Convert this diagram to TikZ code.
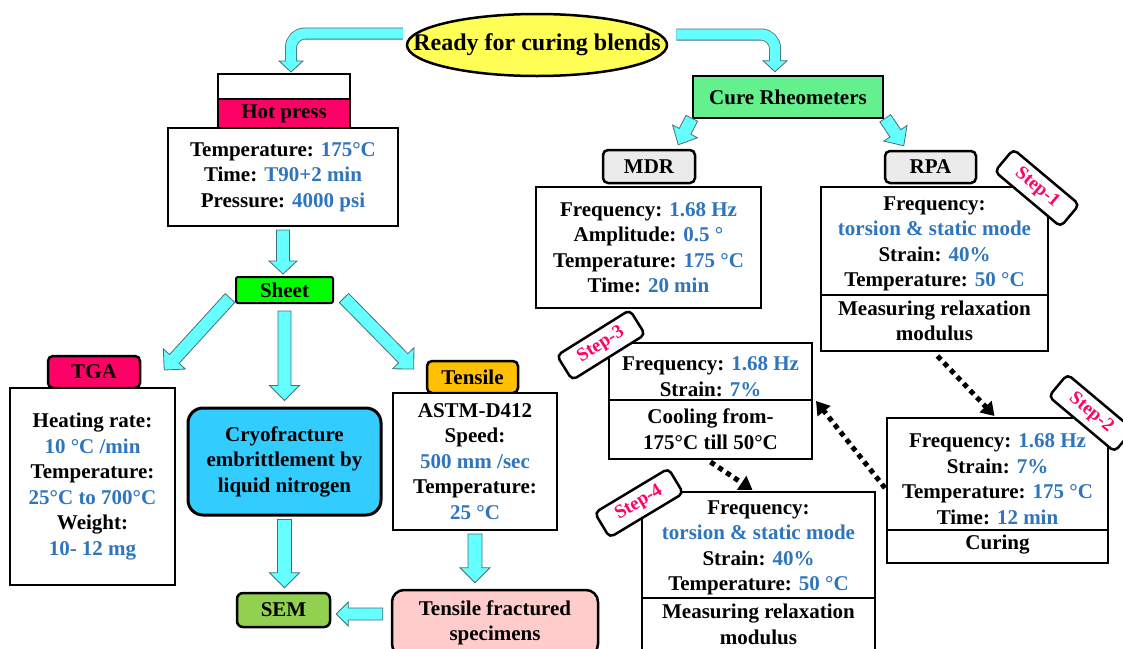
\documentclass[tikz,border=0pt]{standalone}
\usepackage{fontspec}
\setmainfont{Liberation Serif}
\usetikzlibrary{calc,shapes.geometric,arrows.meta}
\definecolor{txtblue}{RGB}{46,117,190}
\definecolor{arrfill}{RGB}{102,255,255}
\definecolor{arrline}{RGB}{70,110,120}
\definecolor{ellfill}{RGB}{255,255,85}
\definecolor{hotred}{RGB}{255,0,102}
\definecolor{sheetgreen}{RGB}{0,255,0}
\definecolor{curegreen}{RGB}{100,240,140}
\definecolor{cryoblue}{RGB}{51,204,255}
\definecolor{semgreen}{RGB}{146,208,80}
\definecolor{tensorange}{RGB}{255,192,0}
\definecolor{fracpink}{RGB}{255,204,204}
\definecolor{taggray}{RGB}{235,235,235}
\definecolor{steppink}{RGB}{255,0,102}
\newcommand\blu[1]{\textcolor{txtblue}{#1}}
% fat arrow: start, end, shaft half width, head half width, head length
\newcommand\fatarrow[5]{%
  \coordinate (fatA) at (#1);
  \coordinate (fatB) at (#2);
  \coordinate (fatC) at ($(fatB)!#5!(fatA)$);
  \filldraw[fatstyle] ($(fatA)!#3!90:(fatB)$) -- ($(fatC)!#3!-90:(fatA)$) -- ($(fatC)!#4!-90:(fatA)$) -- (fatB) -- ($(fatC)!#4!90:(fatA)$) -- ($(fatC)!#3!90:(fatA)$) -- ($(fatA)!#3!-90:(fatB)$) -- cycle;
}
\begin{document}
\begin{tikzpicture}[x=1pt,y=-1pt,
  base/.style={font=\fontsize{21}{25.5}\selectfont\bfseries, align=center, inner sep=0pt, text=black},
  sz/.style 2 args={minimum width=#1pt, minimum height=#2pt},
  box/.style={base, draw, line width=2pt, fill=white},
  tag/.style={base, draw, line width=2.5pt, rounded corners=5pt},
  steptag/.style={draw, line width=2.5pt, rounded corners=5pt, fill=white, text=steppink, font=\fontsize{19}{23}\selectfont\bfseries, minimum width=86pt, minimum height=29pt, inner sep=0pt},
  txt/.style={base},
  fatstyle/.style={fill=arrfill, draw=arrline, line width=0.8pt, line join=miter},
  dotarrow/.style={line width=5pt, dash pattern=on 5pt off 4.5pt, -{Triangle[length=13pt,width=16pt]}},
]
\useasboundingbox (0,0) rectangle (1123,648);

% ---------- title ----------
\node[ellipse, draw, line width=2.5pt, fill=ellfill, minimum width=260pt, minimum height=62pt, inner sep=0pt, font=\fontsize{24}{28}\selectfont\bfseries] (ready) at (537,45) {\makebox[0pt]{Ready for curing blends}};

% ---------- left column ----------
\node[box, sz={132}{25}] (hpw) at (284,86.5) {};
\node[tag, rounded corners=0pt, line width=2pt, fill=hotred, sz={132}{29}] (hpr) at (284,113.5) {Hot press};
\node[box, sz={230}{98}] (hp) at (283,177) {Temperature: \blu{175°C}\\Time: \blu{T90+2 min}\\Pressure: \blu{4000 psi}};
\node[tag, line width=2pt, rounded corners=2pt, fill=sheetgreen, sz={97}{26}] (sheet) at (284.5,290) {Sheet};

\node[tag, fill=hotred, sz={92}{32}] (tgatag) at (94,372) {TGA};
\node[box, sz={165}{197}] (tga) at (92.5,486.5) {Heating rate:\\\blu{10 °C /min}\\Temperature:\\\blu{25°C to 700°C}\\Weight:\\\blu{10- 12 mg}};

\node[base, draw, line width=3pt, rounded corners=15pt, fill=cryoblue, sz={193}{107}] (cryo) at (284.5,461.5) {Cryofracture\\embrittlement by\\liquid nitrogen};
\node[tag, rounded corners=6pt, fill=semgreen, sz={93}{34}] (sem) at (283.5,610) {SEM};

\node[tag, fill=tensorange, sz={91}{32}] (tentag) at (472.5,377) {Tensile};
\node[box, sz={164}{137}] (tenbox) at (475,461.5) {ASTM-D412\\Speed:\\\blu{500 mm /sec}\\Temperature:\\\blu{25 °C}};
\node[tag, rounded corners=12pt, fill=fracpink, sz={206}{66}] (frac) at (495,623) {Tensile fractured\\specimens};

% ---------- right column ----------
\node[tag, rounded corners=0pt, fill=curegreen, sz={190}{42}] (cure) at (788,97) {Cure Rheometers};
\node[tag, fill=taggray, sz={92}{33}] (mdrtag) at (649,166.5) {MDR};
\node[box, sz={225}{121}] (mdr) at (648.5,247.5) {Frequency: \blu{1.68 Hz}\\Amplitude: \blu{0.5 °}\\Temperature: \blu{175 °C}\\Time: \blu{20 min}};
\node[tag, fill=taggray, sz={91}{32}] (rpatag) at (930.5,167) {RPA};

\node[box, sz={227}{108}] (rpaA) at (934.5,241) {};
\node[txt] (rpaAt) at (934.5,244) {Frequency:\\\blu{torsion \& static mode}\\Strain: \blu{40\%}\\Temperature: \blu{50 °C}};
\node[box, sz={227}{56}] (rpaB) at (934.5,323) {};
\node[txt] (rpaBt) at (934.5,321) {Measuring relaxation\\modulus};

\node[box, sz={203}{57}] (s3A) at (710.5,371.5) {};
\node[txt] (s3At) at (710.5,376.5) {Frequency: \blu{1.68 Hz}\\Strain: \blu{7\%}};
\node[box, sz={203}{59}] (s3B) at (710.5,429.5) {};
\node[txt] (s3Bt) at (710.5,429) {Cooling from-\\175°C till 50°C};

\node[box, sz={221}{112}] (s2A) at (997.5,474) {};
\node[txt] (s2At) at (997.5,479) {Frequency: \blu{1.68 Hz}\\Strain: \blu{7\%}\\Temperature: \blu{175 °C}\\Time: \blu{12 min}};
\node[box, sz={221}{33}] (s2B) at (997.5,546.5) {};
\node[txt] (s2Bt) at (997.5,545) {Curing};

\node[box, sz={233}{106}] (s4A) at (758.5,545) {};
\node[txt] (s4At) at (758.5,548) {Frequency:\\\blu{torsion \& static mode}\\Strain: \blu{40\%}\\Temperature: \blu{50 °C}};
\node[box, sz={233}{62}] (s4B) at (758.5,629) {};
\node[txt] (s4Bt) at (758.5,624.5) {Measuring relaxation\\modulus};

% step tags
\node[steptag, rotate=-40] (st1) at (1037,188) {Step-1};
\node[steptag, rotate=-40] (st2) at (1091,413) {Step-2};
\node[steptag, rotate=32] (st3) at (601,345) {Step-3};
\node[steptag, rotate=31] (st4) at (639,503) {Step-4};

% ---------- curved arrows from title ----------
\coordinate (la1) at ($(ready.west)+(-3,-11.5)$);
\coordinate (la2) at ($(hpw.north)+(7,-1)$);
\draw[line width=12pt, arrline, rounded corners=14pt] (la1) -| ($(la2)+(0,-11)$);
\filldraw[fatstyle] ($(la2)+(-12,-11)$) -- ($(la2)+(12,-11)$) -- (la2) -- cycle;
\draw[line width=10.4pt, arrfill, rounded corners=14pt] (la1) -| ($(la2)+(0,-10)$);

\coordinate (ra1) at ($(ready.east)+(8,-10.5)$);
\coordinate (ra2) at ($(cure.north)+(-13,-3)$);
\draw[line width=12pt, arrline, rounded corners=14pt] (ra1) -| ($(ra2)+(0,-11)$);
\filldraw[fatstyle] ($(ra2)+(-12,-11)$) -- ($(ra2)+(12,-11)$) -- (ra2) -- cycle;
\draw[line width=10.4pt, arrfill, rounded corners=14pt] (ra1) -| ($(ra2)+(0,-10)$);

% ---------- fat straight arrows ----------
\fatarrow{$(hp.south)+(0,3)$}{$(hp.south |- sheet.north)+(0,-2)$}{6.5pt}{14pt}{13pt}
\fatarrow{$(sheet.south west)+(-5,-6)$}{$(tgatag.east)+(23,-2)$}{6.5pt}{15pt}{15pt}
\fatarrow{$(sheet.south)+(0,7)$}{$(cryo.north)+(0,-6)$}{6.5pt}{15pt}{15pt}
\fatarrow{$(sheet.south east)+(10,-6)$}{$(tentag.west)+(-12,-8)$}{6.5pt}{15pt}{15pt}
\fatarrow{$(cryo.south)+(0,3)$}{$(cryo.south |- sem.north)+(0,-4)$}{7pt}{15pt}{15pt}
\fatarrow{$(tenbox.south)+(0,3)$}{$(tenbox.south |- frac.north)+(0,-6)$}{7pt}{15pt}{15pt}
\fatarrow{$(frac.west)+(-8,-9)$}{$(sem.east)+(5,4)$}{6pt}{12pt}{12pt}
\fatarrow{$(cure.south west)+(0,-1)$}{$(mdrtag.north east)+(-18,-4)$}{6.5pt}{14pt}{15pt}
\fatarrow{$(cure.south east)+(1,-1)$}{$(rpatag.north west)+(20,-4)$}{6.5pt}{14pt}{15pt}

% ---------- dotted step arrows ----------
\draw[dotarrow] ($(rpaB.south)+(3,4)$) -- ($(s2A.north)+(-3,-1)$);
\draw[dotarrow] ($(s2A.west)+(-1,14)$) -- ($(s3B.north east)+(3,2)$);
\draw[dotarrow] ($(s3B.south)+(0,2)$) -- ($(s4A.north)+(-6,-1)$);
\end{tikzpicture}
\end{document}
